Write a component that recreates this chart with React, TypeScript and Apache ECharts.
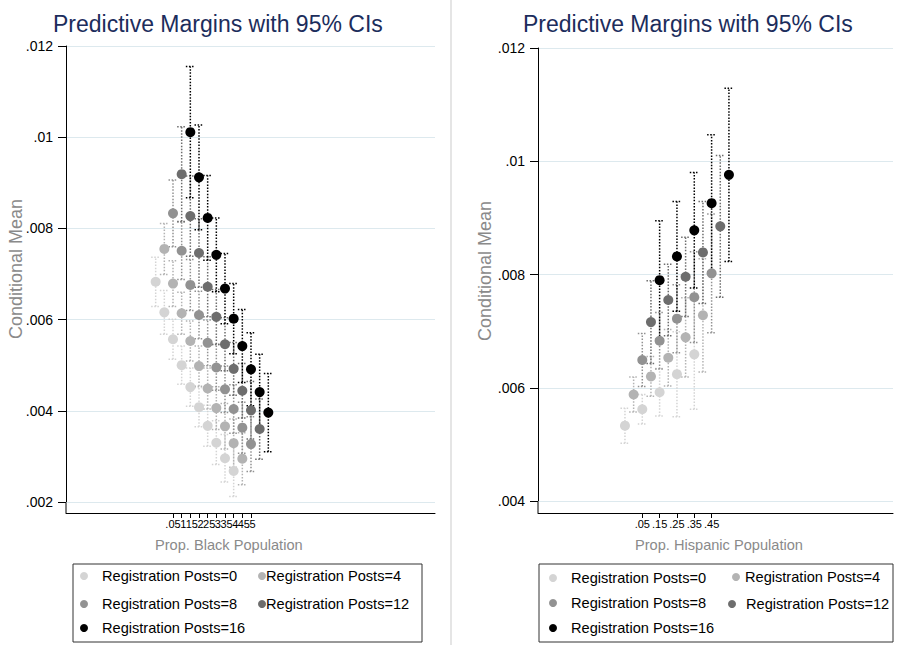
import React, { useEffect, useRef } from "react";
import * as echarts from "echarts";

// ---------- data ----------
const seriesNames = [
  "Registration Posts=0",
  "Registration Posts=4",
  "Registration Posts=8",
  "Registration Posts=12",
  "Registration Posts=16",
];
const seriesColors = ["#d4d4d4", "#b3b3b3", "#929292", "#6d6d6d", "#000000"];

const blackProps = [0.05, 0.1, 0.15, 0.2, 0.25, 0.3, 0.35, 0.4, 0.45, 0.5];
const hispProps = [0.05, 0.15, 0.25, 0.35, 0.45];

// Prop. Black Population panel
const blackMean0 = [0.00683, 0.00616, 0.00557, 0.005, 0.00452, 0.00408, 0.00367, 0.0033, 0.00296, 0.00268];
const blackLow0 = [0.00629, 0.00568, 0.00513, 0.00458, 0.0041, 0.00365, 0.00322, 0.00282, 0.00244, 0.00212];
const blackHigh0 = [0.00737, 0.00664, 0.00601, 0.00542, 0.00494, 0.00451, 0.00412, 0.00378, 0.00348, 0.00324];

const blackMean4 = [0.00755, 0.00679, 0.00614, 0.00553, 0.00498, 0.00449, 0.00406, 0.00366, 0.00329, 0.00295];
const blackLow4 = [0.00699, 0.00629, 0.00568, 0.00509, 0.00454, 0.00404, 0.00359, 0.00316, 0.00276, 0.00238];
const blackHigh4 = [0.00811, 0.00729, 0.0066, 0.00597, 0.00542, 0.00494, 0.00453, 0.00416, 0.00382, 0.00352];

const blackMean8 = [0.00833, 0.00751, 0.00676, 0.0061, 0.00549, 0.00495, 0.00447, 0.00404, 0.00363, 0.00327];
const blackLow8 = [0.0076, 0.00688, 0.0062, 0.00558, 0.00499, 0.00445, 0.00396, 0.00351, 0.00307, 0.00267];
const blackHigh8 = [0.00906, 0.00814, 0.00732, 0.00662, 0.00599, 0.00545, 0.00498, 0.00457, 0.00419, 0.00387];

const blackMean12 = [0.00919, 0.00827, 0.00746, 0.00672, 0.00606, 0.00546, 0.00492, 0.00444, 0.00401, 0.0036];
const blackLow12 = [0.00815, 0.00739, 0.00671, 0.00606, 0.00546, 0.00488, 0.00434, 0.00384, 0.00338, 0.00294];
const blackHigh12 = [0.01023, 0.00915, 0.00821, 0.00738, 0.00666, 0.00604, 0.0055, 0.00504, 0.00464, 0.00426];

const blackMean16 = [0.01011, 0.00912, 0.00823, 0.00742, 0.00668, 0.00602, 0.00542, 0.00491, 0.00441, 0.00396];
const blackLow16 = [0.00867, 0.00797, 0.0073, 0.00661, 0.00591, 0.00525, 0.00462, 0.00411, 0.00358, 0.0031];
const blackHigh16 = [0.01155, 0.01027, 0.00916, 0.00823, 0.00745, 0.00679, 0.00622, 0.00571, 0.00524, 0.00482];

// Prop. Hispanic Population panel
const hispMean0 = [0.00533, 0.00562, 0.00592, 0.00624, 0.00659];
const hispLow0 = [0.00502, 0.00536, 0.0055, 0.00549, 0.00562];
const hispHigh0 = [0.00564, 0.00588, 0.00634, 0.00699, 0.00756];

const hispMean4 = [0.00588, 0.0062, 0.00653, 0.00689, 0.00728];
const hispLow4 = [0.00557, 0.00585, 0.00603, 0.00619, 0.00628];
const hispHigh4 = [0.00619, 0.00655, 0.00703, 0.00759, 0.00828];

const hispMean8 = [0.00649, 0.00683, 0.00722, 0.0076, 0.00802];
const hispLow8 = [0.00602, 0.00633, 0.00662, 0.0068, 0.00697];
const hispHigh8 = [0.00696, 0.00733, 0.00782, 0.0084, 0.00907];

const hispMean12 = [0.00716, 0.00755, 0.00796, 0.00839, 0.00885];
const hispLow12 = [0.00643, 0.00692, 0.00726, 0.00749, 0.0076];
const hispHigh12 = [0.00789, 0.00818, 0.00866, 0.00929, 0.0101];

const hispMean16 = [0.0079, 0.00832, 0.00878, 0.00926, 0.00976];
const hispLow16 = [0.00685, 0.00735, 0.00776, 0.00805, 0.00823];
const hispHigh16 = [0.00895, 0.00929, 0.0098, 0.01047, 0.01129];

const yTicksLeft = [0.002, 0.012, 0.002]; // min, max, interval
const yTicksRight = [0.004, 0.012, 0.002];

const titleText = "Predictive Margins with 95% CIs";
const yTitle = "Conditional Mean";
const xTitles = ["Prop. Black Population", "Prop. Hispanic Population"];

// ---------- helpers ----------
const FONT = "'Liberation Sans', Arial, Helvetica, sans-serif";
const DODGE = 0.05;

const stripZero = (v: number, d: number) =>
  v.toFixed(d).replace(/0+$/, "").replace(/^0/, "");

function makePanelSeries(
  panel: number,
  props: number[],
  means: number[][],
  lows: number[][],
  highs: number[][]
) {
  const out: any[] = [];
  means.forEach((m, s) => {
    const off = (s - 2) * DODGE;
    const color = seriesColors[s];
    out.push({
      type: "custom",
      name: seriesNames[s],
      xAxisIndex: panel,
      yAxisIndex: panel,
      z: 2,
      silent: true,
      itemStyle: { color },
      encode: { x: 0, y: [1, 2] },
      data: props.map((p, i) => [p + off, lows[s][i], highs[s][i]]),
      renderItem: (params: any, api: any) => {
        const x = api.value(0);
        const lo = api.coord([x, api.value(1)]);
        const hi = api.coord([x, api.value(2)]);
        const st = {
          stroke: color,
          lineWidth: 1.5,
          lineDash: [1.5, 1.6],
          fill: null,
        };
        const cw = 4.5;
        return {
          type: "group",
          children: [
            { type: "line", shape: { x1: lo[0], y1: lo[1], x2: hi[0], y2: hi[1] }, style: st },
            { type: "line", shape: { x1: hi[0] - cw, y1: hi[1], x2: hi[0] + cw, y2: hi[1] }, style: st },
            { type: "line", shape: { x1: lo[0] - cw, y1: lo[1], x2: lo[0] + cw, y2: lo[1] }, style: st },
          ],
        };
      },
    });
  });
  means.forEach((m, s) => {
    const off = (s - 2) * DODGE;
    out.push({
      type: "scatter",
      name: seriesNames[s],
      xAxisIndex: panel,
      yAxisIndex: panel,
      z: 3,
      silent: true,
      symbol: "circle",
      symbolSize: 10,
      itemStyle: { color: seriesColors[s], opacity: 1 },
      data: props.map((p, i) => [p + off, m[i]]),
    });
  });
  return out;
}

function xAxisCfg(grid: number, props: number[], min: number, max: number, offset: number, dec: number) {
  // empty guard labels at the axis ends keep every real tick label visible
  const labelValues = [min, ...props, max];
  return {
    type: "value",
    gridIndex: grid,
    min,
    max,
    offset,
    axisLine: { show: true, onZero: false, lineStyle: { color: "#000", width: 1 } },
    axisTick: { show: true, customValues: props, length: 5, lineStyle: { color: "#000" } },
    axisLabel: {
      show: true,
      customValues: labelValues,
      formatter: (v: number) =>
        v < props[0] - 1e-9 || v > props[props.length - 1] + 1e-9 ? "" : stripZero(v, dec),
      fontSize: 11,
      fontFamily: FONT,
      color: "#000",
      margin: 5,
    },
    splitLine: { show: false },
  };
}

function yAxisCfg(grid: number, t: number[]) {
  return {
    type: "value",
    gridIndex: grid,
    min: t[0],
    max: t[1],
    interval: t[2],
    axisLine: { show: true, onZero: false, lineStyle: { color: "#000", width: 1 } },
    axisTick: { show: true, length: 8, lineStyle: { color: "#000" } },
    axisLabel: {
      formatter: (v: number) => stripZero(v, 3),
      fontSize: 14,
      fontFamily: FONT,
      color: "#000",
      margin: 13,
    },
    splitLine: { show: true, lineStyle: { color: "#dde9ee", width: 1 } },
  };
}

function legendItem(name: string, left: number, top: number, w: number, pad?: number[]) {
  return {
    show: true,
    data: [{ name, icon: "circle" }],
    left,
    top,
    orient: "horizontal",
    padding: 0,
    itemGap: 0,
    itemWidth: w,
    itemHeight: 8,
    selectedMode: false,
    textStyle: {
      fontSize: 14.6,
      fontFamily: FONT,
      color: "#000",
      lineHeight: 16,
      ...(pad ? { padding: pad } : {}),
    },
  };
}

export default function App() {
  const ref = useRef<HTMLDivElement>(null);
  useEffect(() => {
    if (!ref.current) return;
    const chart = echarts.init(ref.current, undefined, { renderer: "svg" });

    const series = [
      ...makePanelSeries(
        0,
        blackProps,
        [blackMean0, blackMean4, blackMean8, blackMean12, blackMean16],
        [blackLow0, blackLow4, blackLow8, blackLow12, blackLow16],
        [blackHigh0, blackHigh4, blackHigh8, blackHigh12, blackHigh16]
      ),
      ...makePanelSeries(
        1,
        hispProps,
        [hispMean0, hispMean4, hispMean8, hispMean12, hispMean16],
        [hispLow0, hispLow4, hispLow8, hispLow12, hispLow16],
        [hispHigh0, hispHigh4, hispHigh8, hispHigh12, hispHigh16]
      ),
    ];

    const titleStyle = { text: titleText, fontSize: 23, fontFamily: FONT, fill: "#1c2d5c", align: "left", verticalAlign: "middle" };
    const yTitleStyle = { text: yTitle, fontSize: 18, fontFamily: FONT, fill: "#8a8a8a", align: "center", verticalAlign: "middle" };
    const xTitleStyle = (t: string) => ({ text: t, fontSize: 14.6, fontFamily: FONT, fill: "#8a8a8a", align: "left", verticalAlign: "middle" });

    chart.setOption({
      animation: false,
      backgroundColor: "#ffffff",
      grid: [
        { left: 66, top: 46, width: 369, height: 456, containLabel: false },
        { left: 538, top: 48, width: 355, height: 453, containLabel: false },
      ],
      xAxis: [
        xAxisCfg(0, blackProps, -0.5674, 1.5617, 11, 2),
        xAxisCfg(1, hispProps, -0.5518, 1.4967, 12, 2),
      ],
      yAxis: [yAxisCfg(0, yTicksLeft), yAxisCfg(1, yTicksRight)],
      legend: [
        legendItem(seriesNames[0], 80, 568, 26),
        legendItem(seriesNames[1], 258, 564, 8, [8, 0, 0, -5]),
        legendItem(seriesNames[2], 80, 596, 26),
        legendItem(seriesNames[3], 258, 596, 8, [0, 0, 0, -5]),
        legendItem(seriesNames[4], 80, 620, 26),
        legendItem(seriesNames[0], 549, 570, 26),
        legendItem(seriesNames[1], 732, 566, 8, [6, 0, 0, 0]),
        legendItem(seriesNames[2], 549, 595, 26),
        legendItem(seriesNames[3], 728, 596, 18),
        legendItem(seriesNames[4], 549, 620, 26),
      ],
      graphic: [
        { type: "line", shape: { x1: 451, y1: 0, x2: 451, y2: 645 }, style: { stroke: "#d4d4d4", lineWidth: 1.2 } },
        { type: "text", x: 53, y: 24, style: titleStyle },
        { type: "text", x: 523, y: 24, style: titleStyle },
        { type: "text", x: 16, y: 269, rotation: Math.PI / 2, style: yTitleStyle },
        { type: "text", x: 485, y: 271, rotation: Math.PI / 2, style: yTitleStyle },
        { type: "text", x: 155, y: 545, style: xTitleStyle(xTitles[0]) },
        { type: "text", x: 635, y: 545, style: xTitleStyle(xTitles[1]) },
        { type: "line", shape: { x1: 66, y1: 502, x2: 66, y2: 513 }, style: { stroke: "#000", lineWidth: 1 } },
        { type: "line", shape: { x1: 538, y1: 501, x2: 538, y2: 513 }, style: { stroke: "#000", lineWidth: 1 } },
        { type: "rect", shape: { x: 73, y: 564, width: 349, height: 78 }, style: { fill: "none", stroke: "#333", lineWidth: 1 } },
        { type: "rect", shape: { x: 539, y: 564, width: 354, height: 78 }, style: { fill: "none", stroke: "#333", lineWidth: 1 } },
      ],
      series,
    });
    return () => chart.dispose();
  }, []);
  return (
    <div
      ref={ref}
      style={{ position: "absolute", left: 0, top: 0, width: 899, height: 645, background: "#fff" }}
    />
  );
}
